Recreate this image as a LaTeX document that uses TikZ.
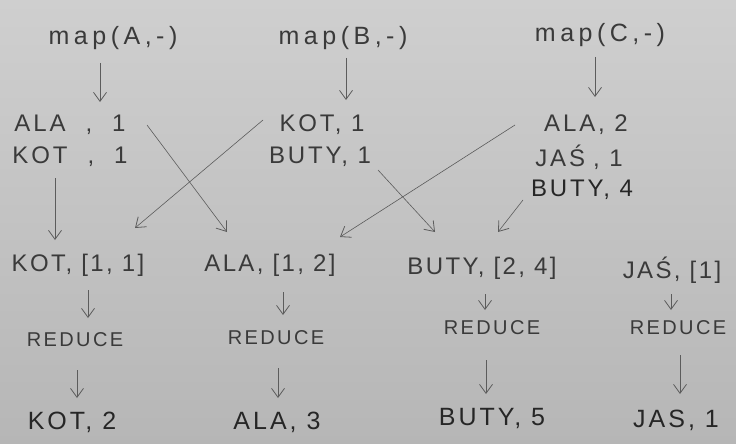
\documentclass[tikz,border=0pt]{standalone}
\usepackage{fontspec}
\setmainfont{Liberation Sans}
\usetikzlibrary{arrows.meta,calc}
\definecolor{paperTop}{HTML}{CFCFCF}
\definecolor{paperBot}{HTML}{B6B6B6}
\definecolor{pencil}{HTML}{3A3A3A}
\definecolor{marker}{HTML}{262626}
\definecolor{stroke}{HTML}{5C5C5C}
\tikzset{
  lbl/.style={text=pencil, inner sep=1pt,
    font=\fontsize{24}{26}\selectfont\addfontfeatures{LetterSpace=12}},
  grplbl/.style={lbl,
    font=\fontsize{24}{26}\selectfont\addfontfeatures{LetterSpace=10}},
  maplbl/.style={lbl,
    font=\fontsize{25}{28}\selectfont\addfontfeatures{LetterSpace=18}},
  redlbl/.style={lbl,
    font=\fontsize{20}{22}\selectfont\addfontfeatures{LetterSpace=12}},
  outlbl/.style={text=marker, inner sep=1pt,
    font=\fontsize{25}{28}\selectfont\addfontfeatures{LetterSpace=12}},
  arr/.style={draw=stroke, line width=0.8pt,
    -{Straight Barb[length=9pt,width=13pt,line width=0.8pt]}},
  cross/.style={arr, line width=0.6pt}
}
\newcommand{\wgap}{\hspace{20pt}}
\newcommand{\ngap}{\hspace{8pt}}
\begin{document}
\begin{tikzpicture}[x=1pt,y=-1pt]
\useasboundingbox (0,0) rectangle (736,444);
\shade[top color=paperTop, bottom color=paperBot] (0,0) rectangle (736,444);

% map calls
\node[maplbl] (mapA) at (113,38) {map(A,-)};
\node[maplbl] (mapB) at (343,38) {map(B,-)};
\node[maplbl] (mapC) at (600,35) {map(C,-)};

% map outputs
\node[lbl] (alaA) at (70,125) {ALA\wgap,\wgap 1};
\node[lbl] (kotA) at (70,157) {KOT\wgap,\wgap 1};
\node[lbl] (kotB) at (322,125) {KOT, 1};
\node[lbl] (butyB) at (320,157) {BUTY, 1};
\node[lbl] (alaC) at (586,125) {ALA, 2};
\node[lbl] (jasC) at (579,157) {JAŚ\ngap, 1};
\node[lbl, text=marker] (butyC) at (582,190) {BUTY, 4};

% grouped values
\node[grplbl] (kotG) at (78,265) {KOT, [1, 1]};
\node[grplbl] (alaG) at (270,265) {ALA, [1, 2]};
\node[grplbl] (butyG) at (482,268) {BUTY, [2, 4]};
\node[grplbl] (jasG) at (672,270) {JAŚ, [1]};

% reduce steps
\node[redlbl] (r1) at (75,340) {REDUCE};
\node[redlbl] (r2) at (276,338) {REDUCE};
\node[redlbl] (r3) at (492,328) {REDUCE};
\node[redlbl] (r4) at (678,328) {REDUCE};

% results
\node[outlbl] (o1) at (72,422) {KOT, 2};
\node[outlbl] (o2) at (277,422) {ALA, 3};
\node[outlbl] (o3) at (492,418) {BUTY, 5};
\node[outlbl] (o4) at (676,420) {JAS, 1};

% map -> outputs
\draw[arr] ($(mapA)+(-13,25)$) -- ($(mapA)+(-13,64)$);
\draw[arr] ($(mapB)+(3,20)$) -- ($(mapB)+(3,62)$);
\draw[arr] ($(mapC)+(-5,22)$) -- ($(mapC)+(-5,62)$);

% shuffle
\draw[cross] ($(kotA)+(-15,21)$) -- ($(kotG)+(-23,-25)$);
\draw[cross] ($(alaA)+(77,0)$) -- ($(alaG)+(-43,-33)$);
\draw[cross] ($(kotB)+(-59,-5)$) -- ($(kotG)+(57,-37)$);
\draw[cross] ($(butyB)+(58,13)$) -- ($(butyG)+(-47,-36)$);
\draw[cross] ($(alaC)+(-71,0)$) -- ($(alaG)+(70,-28)$);
\draw[cross] ($(butyC)+(-59,10)$) -- ($(butyG)+(16,-36)$);

% groups -> reduce -> results
\draw[arr] ($(kotG)+(10,25)$) -- ($(kotG)+(10,53)$);
\draw[arr] ($(alaG)+(13,27)$) -- ($(alaG)+(13,50)$);
\draw[arr] ($(butyG)+(3,26)$) -- ($(butyG)+(3,42)$);
\draw[arr] ($(jasG)+(-1,24)$) -- ($(jasG)+(-1,40)$);
\draw[arr] ($(r1)+(2,30)$) -- ($(r1)+(2,58)$);
\draw[arr] ($(r2)+(2,30)$) -- ($(r2)+(2,60)$);
\draw[arr] ($(r3)+(-6,32)$) -- ($(r3)+(-6,66)$);
\draw[arr] ($(r4)+(2,27)$) -- ($(r4)+(2,66)$);
\end{tikzpicture}
\end{document}
